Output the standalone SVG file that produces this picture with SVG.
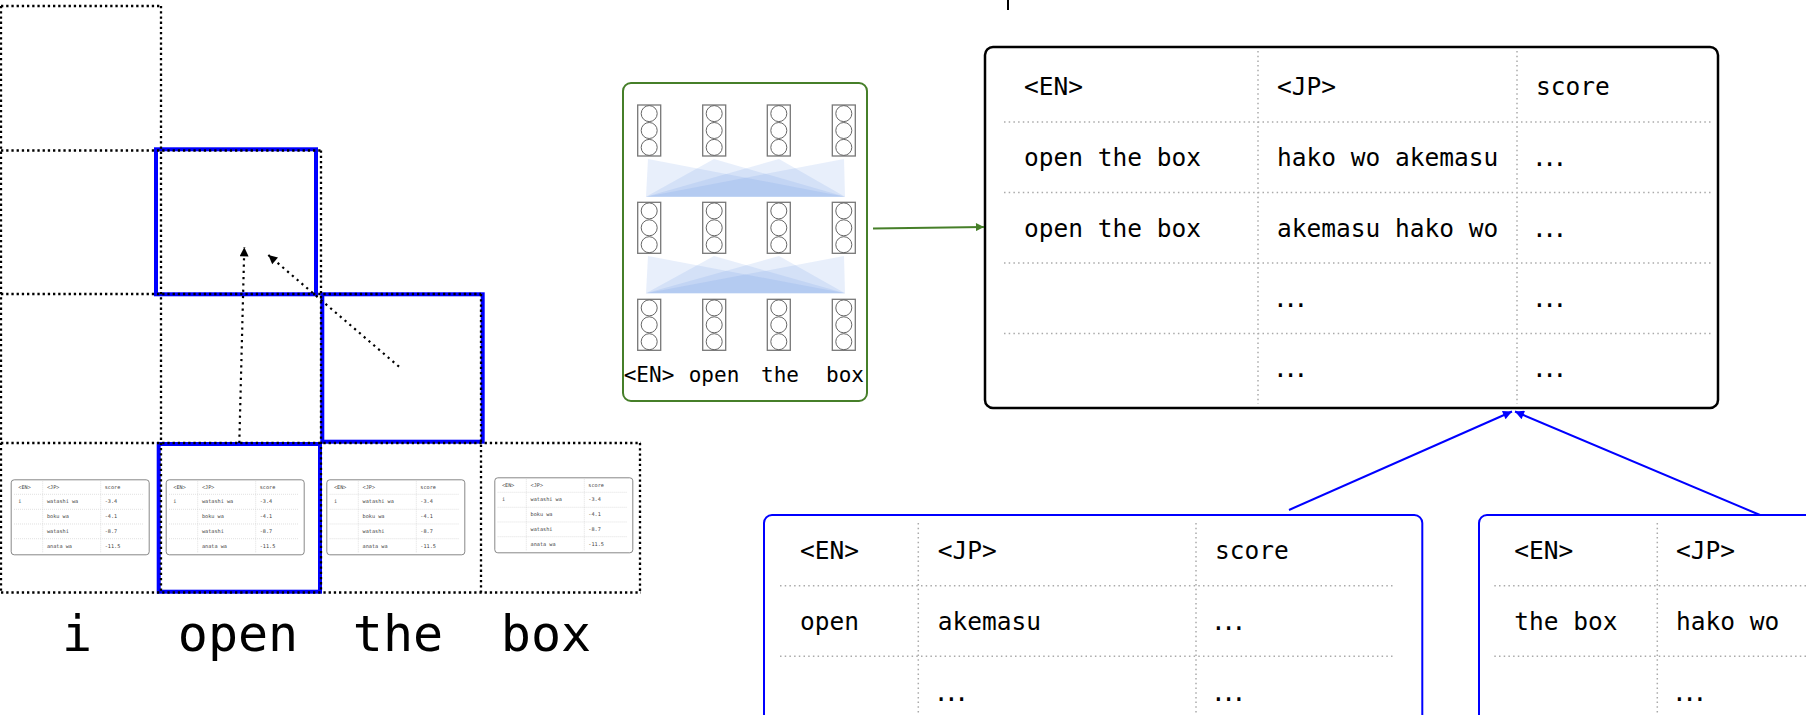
<svg xmlns="http://www.w3.org/2000/svg" width="1806" height="715" viewBox="0 0 1806 715">
  <style>
    .mono { font-family: "DejaVu Sans Mono", "Liberation Mono", monospace; }
    .grid { fill: none; stroke: #000; stroke-width: 2.3; stroke-dasharray: 2.3 2.9; }
    .hl { fill: none; stroke: #0000ff; stroke-width: 4; }
    .rule { fill: none; stroke: #aaa; stroke-width: 1.5; stroke-dasharray: 1.5 3.2; }
    .mini-rule { fill: none; stroke: #ccc; stroke-width: 0.6; stroke-dasharray: 1 1; }
    .mini-txt { font-size: 5.2px; fill: #444; }
    .cell { font-size: 24.5px; fill: #000; }
    .dots { letter-spacing: -4.5px; }
    .word { font-size: 50px; fill: #000; text-anchor: middle; }
    .tok { font-size: 21px; fill: #000; text-anchor: middle; }
    .attn { fill: #5a8fe0; fill-opacity: 0.14; }
    .dotted-arrow { fill: none; stroke: #000; stroke-width: 2.2; stroke-dasharray: 2.2 4.1; }
  </style>
  <defs>
    <marker id="head-black" viewBox="0 0 10 10" refX="10" refY="5" markerWidth="11" markerHeight="9" markerUnits="userSpaceOnUse" orient="auto">
      <path d="M0,0L10,5L0,10z" fill="#000"/>
    </marker>
    <marker id="head-blue" viewBox="0 0 10 10" refX="10" refY="5" markerWidth="12" markerHeight="9" markerUnits="userSpaceOnUse" orient="auto">
      <path d="M0,0L10,5L0,10z" fill="#0000ff"/>
    </marker>
    <marker id="head-green" viewBox="0 0 10 10" refX="10" refY="5" markerWidth="10" markerHeight="8" markerUnits="userSpaceOnUse" orient="auto">
      <path d="M0,0L10,5L0,10z" fill="#467f29"/>
    </marker>

    <!-- one vector of hidden units -->
    <g id="neuron">
      <rect x="0" y="0" width="23" height="51" fill="#fff" stroke="#777" stroke-width="1.3"/>
      <circle cx="11.5" cy="8.6" r="8" fill="none" stroke="#666" stroke-width="1"/>
      <circle cx="11.5" cy="25.5" r="8" fill="none" stroke="#666" stroke-width="1"/>
      <circle cx="11.5" cy="42.4" r="8" fill="none" stroke="#666" stroke-width="1"/>
    </g>

    <!-- small translation table shown in each chart cell -->
    <g id="mini-table">
      <rect x="0.5" y="0.5" width="138" height="75" rx="3" fill="#fff" stroke="#888" stroke-width="1"/>
      <path class="mini-rule" d="M3.3 15H132.6M3.3 30H132.6M3.3 44.7H132.6M3.3 59.4H132.6M32 2V74M90 2V74"/>
      <g class="mono mini-txt">
        <text x="7.6" y="9.4">&lt;EN&gt;</text>
        <text x="36.3" y="9.4">&lt;JP&gt;</text>
        <text x="94" y="9.4">score</text>
        <text x="7.6" y="24">i</text>
        <text x="36.3" y="24">watashi wa</text>
        <text x="94" y="24">-3.4</text>
        <text x="36.3" y="39">boku wa</text>
        <text x="94" y="39">-4.1</text>
        <text x="36.3" y="53.7">watashi</text>
        <text x="94" y="53.7">-8.7</text>
        <text x="36.3" y="68.4">anata wa</text>
        <text x="94" y="68.4">-11.5</text>
      </g>
    </g>
  </defs>

  <rect x="0" y="0" width="1806" height="715" fill="#fff"/>

  <!-- chart cells: highlighted spans -->
  <g id="span-highlights">
    <rect class="hl" x="156" y="149.3" width="160" height="145"/>
    <rect class="hl" x="322.3" y="294.3" width="160.4" height="147.4"/>
    <rect class="hl" x="158.7" y="444" width="161.3" height="147.7"/>
  </g>

  <!-- chart grid (staircase) -->
  <g id="chart-grid">
    <path class="grid" d="M1 6H161M1 150.5H321M1 294H481M1 443H641M1 592.5H641"/>
    <path class="grid" d="M1 6V592.5M161 6V592.5M321 150.5V592.5M481 294V592.5M640 443V592.5"/>
  </g>

  <!-- per-word tables in the bottom row -->
  <g id="cell-table-i"><use href="#mini-table" x="10.7" y="479.3"/></g>
  <g id="cell-table-open"><use href="#mini-table" x="165.7" y="479.3"/></g>
  <g id="cell-table-the"><use href="#mini-table" x="326.3" y="479.3"/></g>
  <g id="cell-table-box"><use href="#mini-table" x="494.3" y="477.3"/></g>

  <!-- input words -->
  <g id="input-words" class="mono">
    <text class="word" x="77" y="651">i</text>
    <text class="word" x="238" y="651">open</text>
    <text class="word" x="398" y="651">the</text>
    <text class="word" x="546" y="651">box</text>
  </g>

  <!-- encoder -->
  <g id="encoder">
    <rect x="623" y="83" width="244" height="318" rx="8" fill="#fff" stroke="#467f29" stroke-width="2"/>
    <g id="attention-1">
      <polygon class="attn" points="648,159 646,196.7 845,196.7"/>
      <polygon class="attn" points="714,159 646,196.7 845,196.7"/>
      <polygon class="attn" points="779,159 646,196.7 845,196.7"/>
      <polygon class="attn" points="844,159 646,196.7 845,196.7"/>
    </g>
    <g id="attention-2">
      <polygon class="attn" points="648,256 646,293.3 845,293.3"/>
      <polygon class="attn" points="714,256 646,293.3 845,293.3"/>
      <polygon class="attn" points="779,256 646,293.3 845,293.3"/>
      <polygon class="attn" points="844,256 646,293.3 845,293.3"/>
    </g>
    <use href="#neuron" x="637.7" y="105"/>
    <use href="#neuron" x="702.7" y="105"/>
    <use href="#neuron" x="767.3" y="105"/>
    <use href="#neuron" x="832.3" y="105"/>
    <use href="#neuron" x="637.7" y="202.3"/>
    <use href="#neuron" x="702.7" y="202.3"/>
    <use href="#neuron" x="767.3" y="202.3"/>
    <use href="#neuron" x="832.3" y="202.3"/>
    <use href="#neuron" x="637.7" y="299.3"/>
    <use href="#neuron" x="702.7" y="299.3"/>
    <use href="#neuron" x="767.3" y="299.3"/>
    <use href="#neuron" x="832.3" y="299.3"/>
    <g class="mono">
      <text class="tok" x="649" y="381.7">&lt;EN&gt;</text>
      <text class="tok" x="714" y="381.7">open</text>
      <text class="tok" x="780" y="381.7">the</text>
      <text class="tok" x="845" y="381.7">box</text>
    </g>
  </g>

  <!-- stray mark at the top edge -->
  <line x1="1008" y1="0" x2="1008" y2="10" stroke="#000" stroke-width="2"/>

  <!-- phrase table for "open the box" -->
  <g id="table-open-the-box">
    <rect x="985" y="47" width="733" height="361" rx="8" fill="#fff" stroke="#000" stroke-width="2.5"/>
    <path class="rule" d="M1004 122H1712M1004 192.5H1712M1004 263H1712M1004 333.5H1712M1258 51V404M1517 51V404"/>
    <g class="mono cell">
      <text x="1024" y="95">&lt;EN&gt;</text>
      <text x="1277" y="95">&lt;JP&gt;</text>
      <text x="1536" y="95">score</text>
      <text x="1024" y="166">open the box</text>
      <text x="1277" y="166">hako wo akemasu</text>
      <text class="dots" x="1532" y="166">...</text>
      <text x="1024" y="236.5">open the box</text>
      <text x="1277" y="236.5">akemasu hako wo</text>
      <text class="dots" x="1532" y="236.5">...</text>
      <text class="dots" x="1273" y="307">...</text>
      <text class="dots" x="1532" y="307">...</text>
      <text class="dots" x="1273" y="377">...</text>
      <text class="dots" x="1532" y="377">...</text>
    </g>
  </g>

  <!-- phrase table for "open" -->
  <g id="table-open">
    <rect x="764" y="515" width="658.3" height="260" rx="8" fill="#fff" stroke="#0000ff" stroke-width="2"/>
    <path class="rule" d="M780 585.7H1395M780 656.3H1395M918.3 523V715M1196 523V715"/>
    <g class="mono cell">
      <text x="800" y="559.3">&lt;EN&gt;</text>
      <text x="937.7" y="559.3">&lt;JP&gt;</text>
      <text x="1215" y="559.3">score</text>
      <text x="800" y="630">open</text>
      <text x="937.7" y="630">akemasu</text>
      <text class="dots" x="1211" y="630">...</text>
      <text class="dots" x="933.7" y="700.5">...</text>
      <text class="dots" x="1211" y="700.5">...</text>
    </g>
  </g>

  <!-- phrase table for "the box" -->
  <g id="table-the-box">
    <rect x="1479" y="515" width="400" height="260" rx="8" fill="#fff" stroke="#0000ff" stroke-width="2"/>
    <path class="rule" d="M1494.3 585.7H1806M1494.3 656.3H1806M1657.3 523V715"/>
    <g class="mono cell">
      <text x="1514.3" y="559.3">&lt;EN&gt;</text>
      <text x="1676" y="559.3">&lt;JP&gt;</text>
      <text x="1514.3" y="630">the box</text>
      <text x="1676" y="630">hako wo</text>
      <text class="dots" x="1672" y="700.5">...</text>
    </g>
  </g>

  <!-- connectors -->
  <g id="connectors">
    <line class="dotted-arrow" x1="239.3" y1="443" x2="244.3" y2="247.3" marker-end="url(#head-black)"/>
    <line class="dotted-arrow" x1="399" y1="366.7" x2="268.3" y2="255" marker-end="url(#head-black)"/>
    <line x1="873" y1="228.5" x2="984" y2="227" stroke="#467f29" stroke-width="2" marker-end="url(#head-green)"/>
    <line x1="1289" y1="510" x2="1512" y2="411.5" stroke="#0000ff" stroke-width="2" marker-end="url(#head-blue)"/>
    <line x1="1760" y1="515" x2="1515" y2="411.5" stroke="#0000ff" stroke-width="2" marker-end="url(#head-blue)"/>
  </g>
</svg>
